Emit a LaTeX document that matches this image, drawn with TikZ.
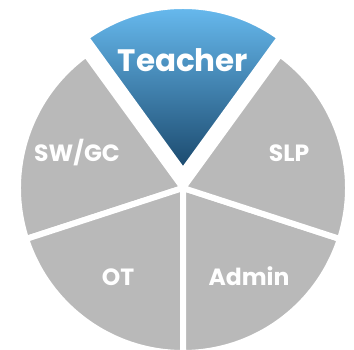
\documentclass[tikz,border=0pt]{standalone}
\usepackage{fontspec}
\setmainfont{Poppins}
\usetikzlibrary{positioning}
\definecolor{slicegray}{RGB}{185,185,185}
\definecolor{teachtop}{RGB}{108,193,247}
\definecolor{teachbot}{RGB}{26,72,108}

\begin{document}
\begin{tikzpicture}[
    x=1pt, y=1pt,
    slice/.style={fill=slicegray, draw=white, line width=6pt, line join=miter},
    teachslice/.style={top color=teachtop, bottom color=teachbot, draw=white, line width=6pt, line join=miter},
    biglabel/.style={text=white, anchor=base, font=\fontsize{31}{33}\selectfont\bfseries},
    pielabel/.style={text=white, anchor=base, font=\fontsize{23.5}{25}\selectfont\bfseries},
]
    \useasboundingbox (0,0) rectangle (354,350);
    \coordinate (c) at (183,162);
    \coordinate (tip) at (183,179);

    % Gray slices
    \foreach \a in {126,198,270,342}
        \draw[slice] (c) -- ++(\a:165) arc[start angle=\a, end angle=\a+72, radius=165] -- cycle;

    % Exploded slice
    \draw[teachslice] (tip) -- ++(54:165) arc[start angle=54, end angle=126, radius=165] -- cycle;

    % Labels
    \node[biglabel] (teacher) at (183,278) {Teacher};
    \node[pielabel] (swgc) at (77,188) {SW/GC};
    \node[pielabel] (slp) at (289,188) {SLP};
    \node[pielabel] (ot) at (118,64) {OT};
    \node[pielabel] (admin) at (249,64) {Admin};
\end{tikzpicture}
\end{document}
